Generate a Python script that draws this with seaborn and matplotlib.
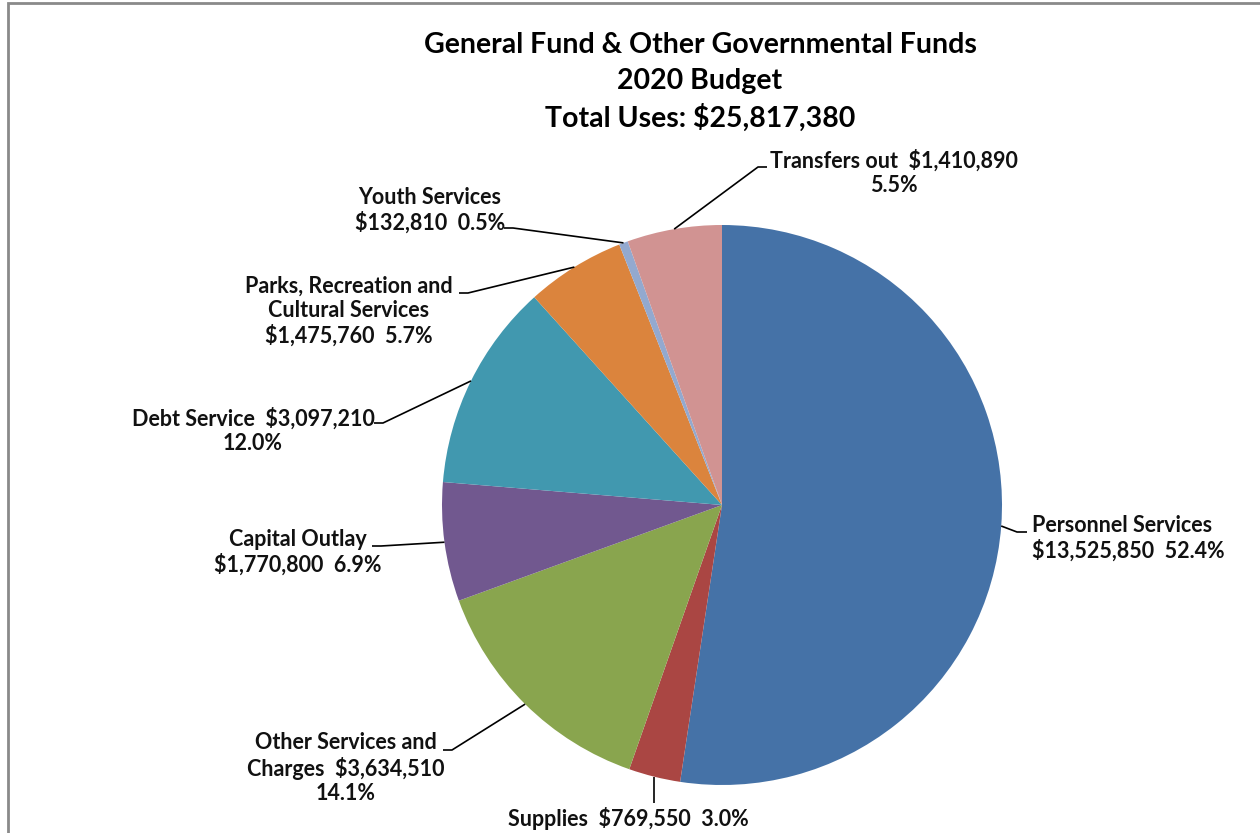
import numpy as np
import matplotlib
matplotlib.use("Agg")
import matplotlib.pyplot as plt
from matplotlib.patches import Rectangle
import seaborn as sns

# Budget uses by category
categories = [
    "Personnel Services",
    "Supplies",
    "Other Services and Charges",
    "Capital Outlay",
    "Debt Service",
    "Parks, Recreation and Cultural Services",
    "Youth Services",
    "Transfers out",
]
amounts = [13525850, 769550, 3634510, 1770800, 3097210, 1475760, 132810, 1410890]
colors = ["#4572A7", "#AA4643", "#89A54E", "#71588F", "#4198AF", "#DB843D", "#93A9CF", "#D19392"]

# Label text layout per wedge ({v} = amount, {p} = percent)
label_templates = [
    "Personnel Services\n{v}  {p}",
    "Supplies  {v}  {p}",
    "Other Services and\nCharges  {v}\n{p}",
    "Capital Outlay\n{v}  {p}",
    "Debt Service  {v}\n{p}",
    "Parks, Recreation and\nCultural Services\n{v}  {p}",
    "Youth Services\n{v}  {p}",
    "Transfers out  {v}\n{p}",
]

title_lines = ["General Fund & Other Governmental Funds", "2020 Budget", "Total Uses: ${:,.0f}"]

W, H = 1260, 833
sns.set_theme(style="white")
plt.rcParams["font.family"] = ["Lato", "DejaVu Sans"]

fig = plt.figure(figsize=(W / 100, H / 100), dpi=100)
ax = fig.add_axes([0, 0, 1, 1])


def P(x, y):
    """pixel position (origin top-left) -> axes data coords"""
    return x, H - y


cx, cy = P(722, 505)
R = 280
wedges, _ = ax.pie(
    amounts,
    colors=colors,
    startangle=90,
    counterclock=False,
    center=(cx, cy),
    radius=R,
    wedgeprops=dict(linewidth=0),
)
ax.set_xlim(0, W)
ax.set_ylim(0, H)
ax.set_aspect("equal")
ax.axis("off")

total = sum(amounts)

# label anchor (text centre), leader elbow and leader end, in pixels
label_pos = [
    (1032, 538, "left"),
    (628, 818, "center"),
    (346, 768, "center"),
    (298, 552, "center"),
    (253, 431, "center"),
    (349, 311, "center"),
    (430, 210, "center"),
    (894, 173, "center"),
]
leader_pts = [
    [(1017, 532), (1027, 532)],
    [(None, 803)],
    [(452, 750), (443, 750)],
    [(381, 546), (372, 546)],
    [(383, 423), (374, 423)],
    [(468, 293), (459, 293)],
    [(513, 228), (504, 228)],
    [(758, 167), (767, 167)],
]

for w, amt, tmpl, (lx, ly, ha), pts in zip(wedges, amounts, label_templates, label_pos, leader_pts):
    mid = np.deg2rad((w.theta1 + w.theta2) / 2)
    sx, sy = cx + R * np.cos(mid), cy + R * np.sin(mid)
    xs, ys = [sx], [sy]
    for px, py in pts:
        xs.append(sx if px is None else px)
        ys.append(H - py)
    ax.plot(xs, ys, color="black", lw=1.2, solid_capstyle="butt")
    txt = tmpl.format(v=f"${amt:,.0f}", p=f"{amt / total * 100:.1f}%")
    tx, ty = P(lx, ly)
    ax.text(tx, ty, txt, ha=ha, va="center", multialignment="center" if ha == "center" else "left",
            fontsize=15.5, fontweight="bold", color="#111111", linespacing=1.18)

# Title, one line at a time
title_text = [title_lines[0], title_lines[1], title_lines[2].format(total)]
for line, py in zip(title_text, [45, 81, 118]):
    tx, ty = P(700, py)
    ax.text(tx, ty, line, ha="center", va="center", fontsize=20.5, fontweight="bold", color="black")

# chart-area frame (extends past the right and bottom edges)
fig.patches.append(Rectangle((8 / W, -0.1), 1.2, (H - 3.5) / H + 0.1, transform=fig.transFigure,
                             fill=False, edgecolor="#8a8a8a", lw=2))

fig.savefig("out.png", dpi=100)
